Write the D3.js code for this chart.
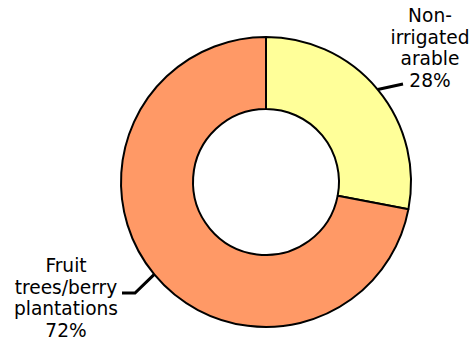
<!DOCTYPE html>
<html>
<head>
<meta charset="utf-8">
<script src="https://cdn.jsdelivr.net/npm/d3@7"></script>
<style>
  html, body { margin: 0; padding: 0; background: #fff; }
  svg { display: block; }
  text { font-family: "DejaVu Sans", Verdana, sans-serif; font-size: 18.6px; fill: #000; }
</style>
</head>
<body>
<svg id="chart" width="475" height="347"></svg>
<script>
// Land use shares (percent)
const categories = ["Non-irrigated arable", "Fruit trees/berry plantations"];
const values = [28, 72];
const colors = ["#FFFF99", "#FF9966"];
const labelLines = [
  ["Non-", "irrigated", "arable", "28%"],
  ["Fruit", "trees/berry", "plantations", "72%"]
];

const svg = d3.select("#chart");
const cx = 266, cy = 182;
const outerR = 145, innerR = 73;

const pie = d3.pie().sort(null).value(d => d)(values);
const arc = d3.arc().innerRadius(innerR).outerRadius(outerR);

const g = svg.append("g").attr("transform", `translate(${cx},${cy})`);

g.selectAll("path.slice")
  .data(pie)
  .join("path")
  .attr("class", "slice")
  .attr("d", arc)
  .attr("fill", (d, i) => colors[i])
  .attr("stroke", "#000")
  .attr("stroke-width", 2)
  .attr("stroke-linejoin", "round");

// Label blocks: centre x and first baseline, with leader path end points
const labelLayout = [
  { x: 430, y: 22, leader: [[403, 84]] },
  { x: 66, y: 272, leader: [[135, 293], [122, 293]] }
];

pie.forEach((d, i) => {
  const mid = (d.startAngle + d.endAngle) / 2;
  const sx = cx + outerR * Math.sin(mid);
  const sy = cy - outerR * Math.cos(mid);
  const pts = [[sx, sy]].concat(labelLayout[i].leader);
  svg.append("path")
    .attr("d", d3.line()(pts))
    .attr("fill", "none")
    .attr("stroke", "#000")
    .attr("stroke-width", 3);

  const t = svg.append("text")
    .attr("text-anchor", "middle")
    .attr("x", labelLayout[i].x)
    .attr("y", labelLayout[i].y);
  labelLines[i].forEach((line, j) => {
    t.append("tspan")
      .attr("x", labelLayout[i].x)
      .attr("dy", j === 0 ? 0 : 21.7)
      .text(line);
  });
});
</script>
</body>
</html>
